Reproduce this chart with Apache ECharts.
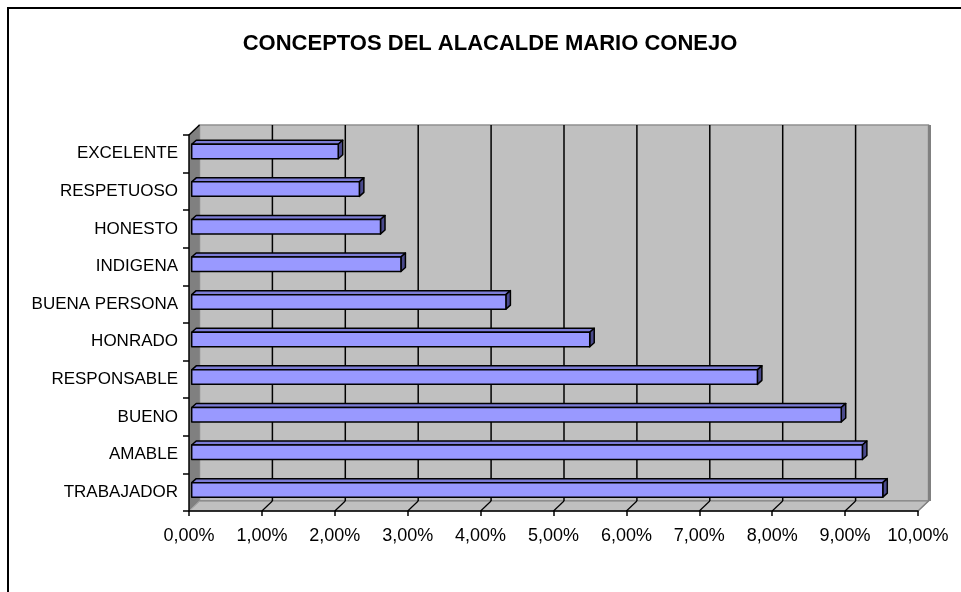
<!DOCTYPE html>
<html>
<head>
<meta charset="utf-8">
<script src="https://cdn.jsdelivr.net/npm/echarts@6/dist/echarts.min.js"></script>
<style>
html,body{margin:0;padding:0;background:#fff;}
#chart{width:961px;height:592px;}
</style>
</head>
<body>
<div id="chart"></div>
<script>
// ---- data (categories listed bottom to top, as the axis draws them) ----
const categories = ['TRABAJADOR','AMABLE','BUENO','RESPONSABLE','HONRADO','BUENA PERSONA','INDIGENA','HONESTO','RESPETUOSO','EXCELENTE'];
const values = [9.48, 9.20, 8.91, 7.76, 5.46, 4.31, 2.87, 2.59, 2.30, 2.01];
const xTicks = [0,1,2,3,4,5,6,7,8,9,10];
const titleText = 'CONCEPTOS DEL ALACALDE MARIO CONEJO';

const FONT = '"Liberation Sans", Arial, sans-serif';
const xMin = xTicks[0], xMax = xTicks[xTicks.length-1];

const chart = echarts.init(document.getElementById('chart'), null, {renderer:'canvas'});

function frameItem(params, api) {
  const dx = 10.5, dy = -10;
  const n = categories.length;
  const band = api.size([0,1])[1];
  const xL = api.coord([xMin,0])[0];
  const xR = api.coord([xMax,0])[0];
  const yB = api.coord([xMin,0])[1] + band/2;
  const yT = api.coord([xMin,n-1])[1] - band/2;
  const ch = [];
  ch.push({type:'rect', shape:{x:xL+dx, y:yT+dy, width:xR-xL, height:yB-yT},
    style:{fill:'#c0c0c0', stroke:'#909090', lineWidth:1.5}});
  ch.push({type:'polygon', shape:{points:[[xL,yB],[xL+dx,yB+dy],[xR+dx,yB+dy],[xR,yB]]},
    style:{fill:'#c0c0c0', stroke:'#808080', lineWidth:1}});
  ch.push({type:'polygon', shape:{points:[[xL,yB],[xL,yT],[xL+dx,yT+dy],[xL+dx,yB+dy]]},
    style:{fill:'#808080'}});
  ch.push({type:'line', shape:{x1:xL, y1:yT, x2:xL+dx, y2:yT+dy}, style:{stroke:'#000', lineWidth:1.5}});
  ch.push({type:'line', shape:{x1:xL, y1:yB, x2:xL+dx, y2:yB+dy}, style:{stroke:'#a8a8a8', lineWidth:1}});
  ch.push({type:'line', shape:{x1:xR+dx+1, y1:yT+dy, x2:xR+dx+1, y2:yB+dy}, style:{stroke:'#808080', lineWidth:3}});
  ch.push({type:'line', shape:{x1:xR, y1:yB, x2:xR+dx, y2:yB+dy}, style:{stroke:'#808080', lineWidth:1.5}});
  xTicks.forEach(function(t){
    if (t <= xMin || t >= xMax) return;
    const x = api.coord([t,0])[0];
    ch.push({type:'line', shape:{x1:x+dx, y1:yT+dy, x2:x+dx, y2:yB+dy}, style:{stroke:'#000', lineWidth:1.5}});
    ch.push({type:'line', shape:{x1:x, y1:yB, x2:x+dx, y2:yB+dy}, style:{stroke:'#000', lineWidth:1.2}});
  });
  return {type:'group', children:ch};
}

function barItem(params, api) {
  const v = api.value(0), i = api.value(1);
  const p0 = api.coord([xMin,i]), p1 = api.coord([v,i]);
  const band = api.size([0,1])[1];
  const h = band*0.386;
  const ox = 2.7, oy = -2.3, ddx = 4.5, ddy = -4;
  const x0 = p0[0]+ox, x1 = p1[0]+ox;
  const yc = p0[1]+oy, yt = yc-h/2, yb = yc+h/2;
  const st = {stroke:'#000', lineWidth:1.5, lineJoin:'round'};
  return {type:'group', children:[
    {type:'polygon', shape:{points:[[x0,yt],[x0+ddx,yt+ddy],[x1+ddx,yt+ddy],[x1,yt]]},
      style:Object.assign({fill:'#7c7cd6'}, st)},
    {type:'polygon', shape:{points:[[x1,yt],[x1+ddx,yt+ddy],[x1+ddx,yb+ddy],[x1,yb]]},
      style:Object.assign({fill:'#4a4a8c'}, st)},
    {type:'rect', shape:{x:x0, y:yt, width:x1-x0, height:h},
      style:Object.assign({fill:'#9999ff'}, st)}
  ]};
}

const option = {
  backgroundColor:'#ffffff',
  animation:false,
  grid:{left:189, right:43, top:135, bottom:81, containLabel:false},
  xAxis:{
    type:'value', min:xMin, max:xMax, interval:1, z:10,
    axisLine:{show:true, lineStyle:{color:'#000', width:1.5}},
    axisTick:{show:true, length:5, lineStyle:{color:'#000', width:1.5}},
    axisLabel:{margin:16, fontFamily:FONT, fontSize:18, color:'#000',
      formatter:function(v){ return v.toFixed(2).replace('.', ',') + '%'; }},
    splitLine:{show:false}
  },
  yAxis:{
    type:'category', data:categories, z:10,
    axisLine:{show:true, lineStyle:{color:'#000', width:1.5}},
    axisTick:{show:true, length:6, lineStyle:{color:'#000', width:1.5}},
    axisLabel:{margin:11, fontFamily:FONT, fontSize:17, color:'#000'},
    splitLine:{show:false}
  },
  graphic:[
    {type:'text', z:100, x:490, y:44, silent:true,
      style:{text:titleText, font:'bold 22px ' + FONT, fill:'#000', align:'center', verticalAlign:'middle'}},
    {type:'rect', z:100, shape:{x:8, y:8, width:1100, height:1000},
      style:{fill:'none', stroke:'#000', lineWidth:2}, silent:true}
  ],
  series:[
    {type:'custom', z:1, renderItem:frameItem, data:[[xMin,0]], encode:{x:0,y:1}, silent:true},
    {type:'custom', z:3, renderItem:barItem, data:values.map(function(v,i){return [v,i];}), encode:{x:0,y:1}}
  ]
};
chart.setOption(option);
</script>
</body>
</html>
